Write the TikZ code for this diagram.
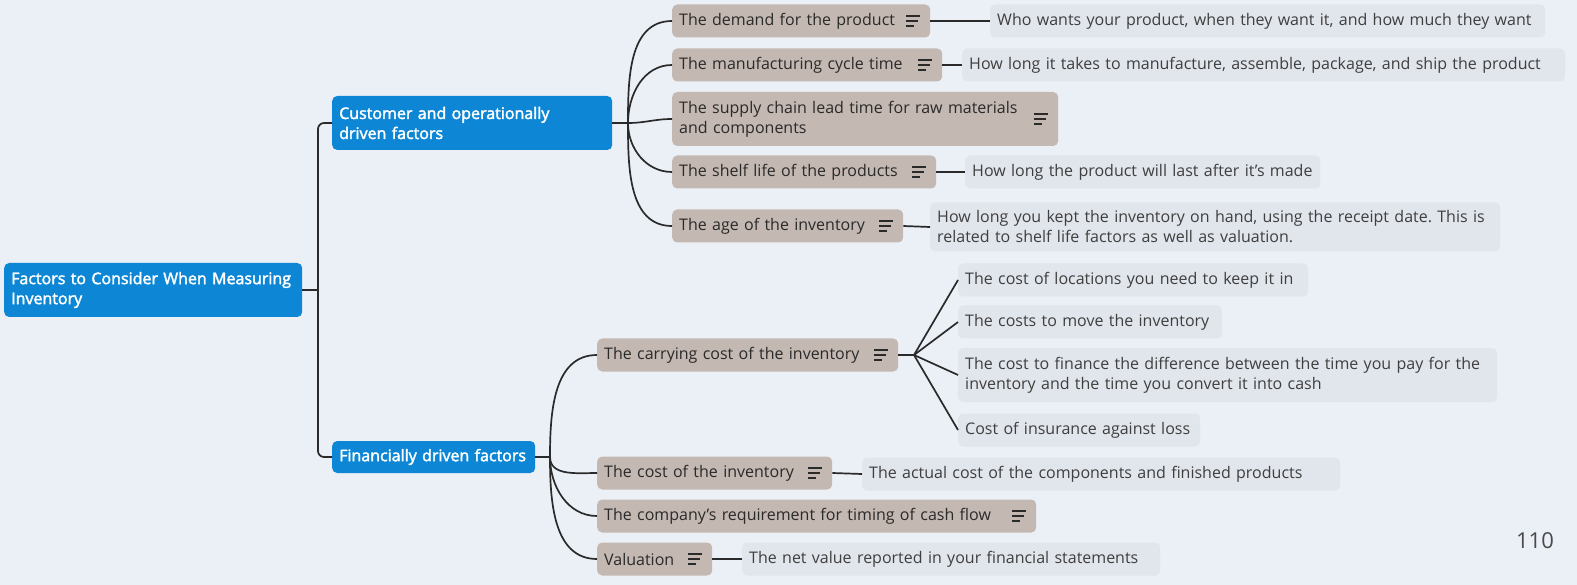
\documentclass[tikz,border=0pt]{standalone}
\usepackage{fontspec}
\setmainfont{Open Sans}
\newfontfamily\semib{Open Sans}[FakeBold=2.2]
\usetikzlibrary{positioning}
\frenchspacing
\definecolor{pagebg}{HTML}{EBF0F7}
\definecolor{xblue}{HTML}{0D87D5}
\definecolor{taupe}{HTML}{C4B8B2}
\definecolor{notegrey}{HTML}{E1E5EC}
\definecolor{ink}{HTML}{2A2A2A}
\tikzset{
  base/.style={anchor=west, rounded corners=5pt, inner xsep=7pt, inner ysep=2pt,
    align=left, font=\fontsize{16}{20}\selectfont, minimum height=33pt},
  mainbox/.style={base, fill=xblue, text=white, font=\fontsize{16}{20}\selectfont\semib},
  topicbox/.style={base, fill=taupe, text=ink},
  notebox/.style={base, fill=notegrey, text=ink!90},
  twoline/.style={minimum height=54pt},
  link/.style={draw=ink, line width=1.7pt},
  iconline/.style={ink, line width=1.4pt},
}
\newcommand{\noteicon}[1]{%
  \draw[iconline] ([xshift=-24pt,yshift=5pt]#1.east) -- ++(14,0);
  \draw[iconline] ([xshift=-24pt]#1.east) -- ++(12,0);
  \draw[iconline] ([xshift=-24pt,yshift=-5pt]#1.east) -- ++(8,0);}

\begin{document}
\begin{tikzpicture}[x=1pt, y=-1pt]
  \fill[pagebg] (0,0) rectangle (1577,585);
  \useasboundingbox (0,0) rectangle (1577,585);

  \node[mainbox, twoline, text width=284pt] (root) at (4,290) {Factors to Consider When Measuring\\Inventory};
  \node[mainbox, twoline, text width=266pt] (cust) at (332,123) {Customer and operationally\\driven factors};
  \node[mainbox, minimum height=32pt, text width=189pt] (fin) at (332,457) {Financially driven factors};

  \node[topicbox, text width=244pt] (dem) at (672,21) {The demand for the product};
  \node[topicbox, text width=256pt] (mfg) at (672,65) {The manufacturing cycle time};
  \node[topicbox, twoline, text width=372pt] (sup) at (672,119) {The supply chain lead time for raw materials\\and components};
  \node[topicbox, text width=250pt] (shelf) at (672,172) {The shelf life of the products};
  \node[topicbox, text width=217pt] (age) at (672,226) {The age of the inventory};

  \node[topicbox, text width=287pt] (carry) at (597,355) {The carrying cost of the inventory};
  \node[topicbox, text width=221pt] (costinv) at (597,473) {The cost of the inventory};
  \node[topicbox, text width=425pt] (cash) at (597,516) {The company's requirement for timing of cash flow};
  \node[topicbox, text width=101pt] (val) at (597,559) {Valuation};

  \node[notebox, text width=541pt] (who) at (990,21) {Who wants your product, when they want it, and how much they want};
  \node[notebox, text width=589pt] (howlong) at (962,65) {How long it takes to manufacture, assemble, package, and ship the product};
  \node[notebox, text width=341pt] (last) at (965,172) {How long the product will last after it's made};
  \node[notebox, minimum height=49pt, text width=556pt] (kept) at (930,227) {How long you kept the inventory on hand, using the receipt date. This is\\related to shelf life factors as well as valuation.};

  \node[notebox, text width=336pt] (loc) at (958,280) {The cost of locations you need to keep it in};
  \node[notebox, text width=250pt] (move) at (958,322) {The costs to move the inventory};
  \node[notebox, twoline, text width=525pt] (finance) at (958,375) {The cost to finance the difference between the time you pay for the\\inventory and the time you convert it into cash};
  \node[notebox, text width=228pt] (insur) at (958,430) {Cost of insurance against loss};
  \node[notebox, text width=464pt] (actual) at (862,474) {The actual cost of the components and finished products};
  \node[notebox, text width=404pt] (net) at (742,559) {The net value reported in your financial statements};

  \node[text=ink!85, font=\fontsize{22}{24}\selectfont] (page) at (1535,541) {110};

  \foreach \t in {dem,mfg,sup,shelf,age,carry,costinv,cash,val}{
    \noteicon{\t}
  }

  \coordinate (rj) at (318,290);
  \coordinate (j1) at (628,123);
  \coordinate (j2) at (550,457);
  \coordinate (k) at (914,355);

  \draw[link] (root.east) -- (rj);
  \draw[link, rounded corners=6pt] (cust.west) -| (rj) |- (fin.west);

  \draw[link] (cust.east) -- (j1);
  \foreach \t in {dem,mfg}
    \draw[link] (j1) to[out=90, in=180] (\t.west);
  \draw[link] (j1) to[out=0, in=180] (sup.west);
  \foreach \t in {shelf,age}
    \draw[link] (j1) to[out=-90, in=180] (\t.west);

  \draw[link] (fin.east) -- (j2);
  \draw[link] (j2) to[out=90, in=180] (carry.west);
  \foreach \t in {costinv,cash,val}
    \draw[link] (j2) to[out=-90, in=180] (\t.west);

  \draw[link] (carry.east) -- (k);
  \foreach \t in {loc,move,finance,insur}
    \draw[link] (k) -- (\t.west);

  \draw[link] (dem.east) -- (who.west);
  \draw[link] (mfg.east) -- (howlong.west);
  \draw[link] (shelf.east) -- (last.west);
  \draw[link] (age.east) -- (kept.west);
  \draw[link] (costinv.east) -- (actual.west);
  \draw[link] (val.east) -- (net.west);
\end{tikzpicture}
\end{document}
